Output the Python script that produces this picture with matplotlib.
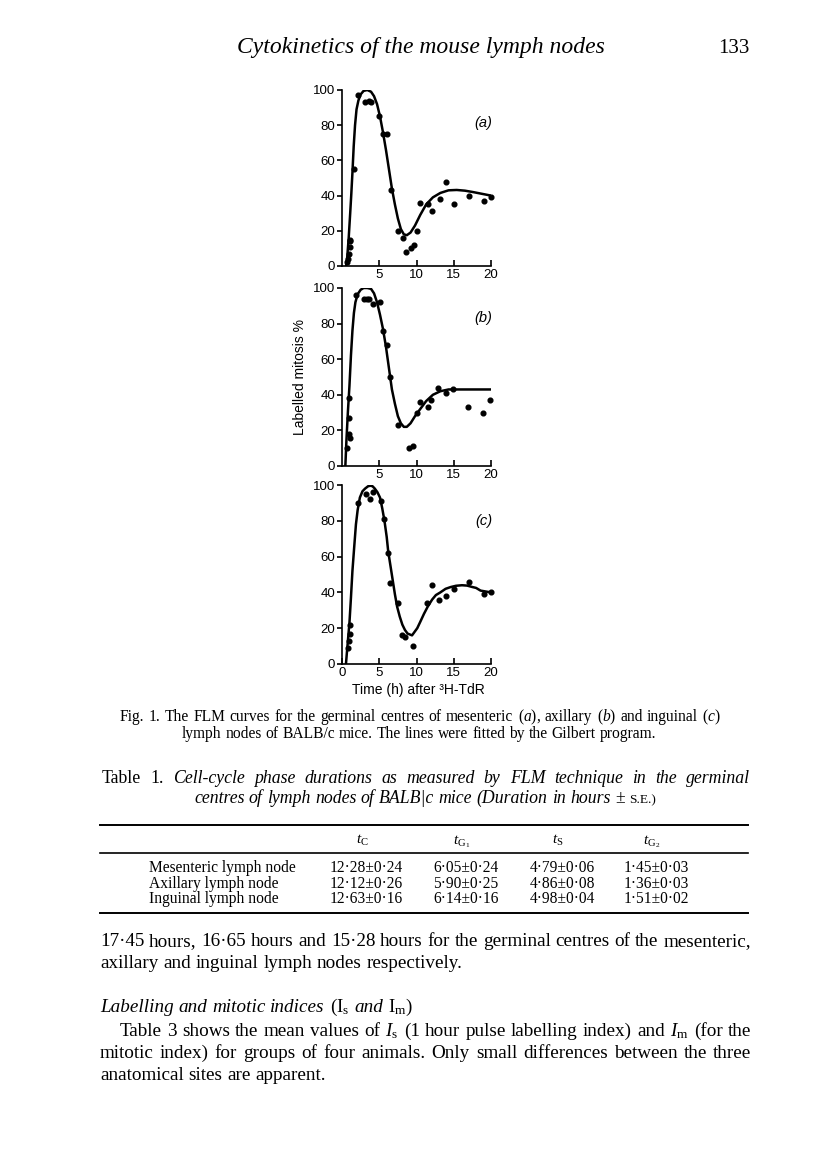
import matplotlib
matplotlib.use('Agg')
import matplotlib.pyplot as plt
from matplotlib.lines import Line2D

plt.rcParams['mathtext.fontset'] = 'custom'
plt.rcParams['mathtext.rm'] = 'Liberation Serif'
plt.rcParams['mathtext.it'] = 'Liberation Serif:italic'
plt.rcParams['mathtext.bf'] = 'Liberation Serif:bold'

W, H = 816, 1163
SERIF = 'Liberation Serif'
SANS = 'Liberation Sans'

# ---- FLM data ----
# (a) mesenteric
a_t = [0.7, 0.8, 1.0, 1.1, 1.1, 1.1, 1.6, 2.1, 3.1, 3.6, 3.9, 5.0, 5.5, 6.0, 6.6,
       7.5, 8.2, 8.6, 9.2, 9.6, 10.1, 10.5, 11.6, 12.1, 13.1, 14.0, 15.1, 17.0, 19.0, 20.0]
a_pct = [2, 4, 7, 11, 14, 15, 55, 97, 93, 94, 93, 85, 75, 75, 43,
         20, 16, 8, 10, 12, 20, 36, 35, 31, 38, 48, 35, 40, 37, 39]
a_fit_t = [0.55, 0.7, 0.9, 1.1, 1.25, 1.4, 1.57, 1.75, 1.95, 2.2, 2.5, 2.9, 3.4, 3.9,
           4.3, 4.7, 5.1, 5.5, 5.9, 6.3, 6.7, 7.1, 7.5, 7.9, 8.3, 8.7, 9.2, 9.8, 10.5,
           11.3, 12.2, 13.2, 14.3, 15.4, 16.5, 17.6, 18.8, 20.0]
a_fit = [0, 5, 16, 30, 41, 53, 68, 80, 89, 94, 97.5, 99.5, 100, 99,
         96.5, 92, 85, 76, 66, 55, 44, 35, 27, 21, 18, 17.5, 19, 23, 29,
         35, 39, 41.5, 43, 43.2, 42.8, 42, 41, 40]

# (b) axillary
b_t = [0.7, 0.9, 1.1, 1.0, 0.9, 1.9, 2.9, 3.3, 3.6, 4.1, 5.1, 5.5, 6.0, 6.5, 7.5,
       9.0, 9.5, 10.0, 10.5, 11.5, 12.0, 12.9, 14.0, 14.9, 16.9, 18.9, 19.9]
b_pct = [10, 18, 16, 27, 38, 96, 94, 94, 94, 91, 92, 76, 68, 50, 23,
         10, 11, 30, 36, 33, 37, 44, 41, 43, 33, 30, 37]
b_fit_t = [0.45, 0.6, 0.8, 1.0, 1.2, 1.4, 1.6, 1.8, 2.1, 2.5, 2.9, 3.4, 3.9, 4.3,
           4.7, 5.1, 5.5, 5.9, 6.3, 6.7, 7.1, 7.5, 7.9, 8.3, 8.7, 9.2, 9.8, 10.5,
           11.3, 12.2, 13.2, 14.3, 15.5, 17.0, 18.5, 20.0]
b_fit = [0, 15, 31, 45, 62, 76, 86, 92, 96.5, 99, 100, 100, 99.5, 97,
         92, 85, 77, 67, 55, 43, 35, 28, 24, 22, 22, 24, 28, 32,
         36.5, 40, 42, 43, 43, 43, 43, 43]

# (c) inguinal
c_t = [0.76, 0.9, 1.07, 1.07, 2.2, 3.2, 3.7, 4.2, 5.3, 5.7, 6.2, 6.5, 7.5, 8.0,
       8.4, 9.5, 11.4, 12.1, 13.0, 14.0, 15.0, 17.1, 19.0, 20.0]
c_pct = [9, 13, 17, 22, 90, 95, 92, 96, 91, 81, 62, 45, 34, 16,
         15, 10, 34, 44, 36, 38, 42, 46, 39, 40]
c_fit_t = [0.53, 0.75, 1.0, 1.2, 1.4, 1.65, 1.87, 2.1, 2.4, 2.75, 3.1, 3.5, 3.8, 4.1,
           4.4, 4.75, 5.1, 5.4, 5.7, 6.0, 6.2, 6.5, 6.8, 7.1, 7.4, 7.75, 8.1, 8.45,
           8.8, 9.4, 10.1, 10.5, 11.0, 11.5, 12.1, 12.6, 13.2, 13.9, 14.6, 15.3, 16.1,
           16.8, 17.5, 18.0, 18.6, 19.3, 20.0]
c_fit = [0, 11, 23, 37, 52, 66, 78, 86, 93, 96.5, 98, 99.3, 99.6, 99.3,
         98, 96, 93, 87, 80, 71, 63, 55, 47, 39, 32, 26.5, 22, 19,
         17, 16, 20, 23.5, 28, 32, 36, 38.5, 40, 42, 43, 43.7, 44,
         43.8, 43, 42.5, 41, 40.5, 40]

panel_names = ['(a)', '(b)', '(c)']
yticks = [0, 20, 40, 60, 80, 100]

# ---- Table 1 ----
row_names = ['Mesenteric lymph node', 'Axillary lymph node', 'Inguinal lymph node']
col_heads = [r'$t_{\mathrm{C}}$', r'$t_{\mathrm{G}_1}$', r'$t_{\mathrm{S}}$', r'$t_{\mathrm{G}_2}$']
t_c = ['12·28±0·24', '12·12±0·26', '12·63±0·16']
t_g1 = ['6·05±0·24', '5·90±0·25', '6·14±0·16']
t_s = ['4·79±0·06', '4·86±0·08', '4·98±0·04']
t_g2 = ['1·45±0·03', '1·36±0·03', '1·51±0·02']

fig = plt.figure(figsize=(W / 100, H / 100), dpi=100)
fig.patch.set_facecolor('white')
rend = fig.canvas.get_renderer()


def fx(x):
    return x / W


def fy(y):
    return 1 - y / H


# ---- the three FLM panels ----
boxes = [(90, 266), (288, 466), (485, 664)]
label_y = [81, 83, 80]
series = [(a_t, a_pct, a_fit_t, a_fit), (b_t, b_pct, b_fit_t, b_fit),
          (c_t, c_pct, c_fit_t, c_fit)]
for i, ((top, bot), (t, p, ft, fp)) in enumerate(zip(boxes, series)):
    ax = fig.add_axes([fx(342), fy(bot), fx(491) - fx(342), (bot - top) / H])
    ax.plot(ft, fp, color='black', lw=1.8, solid_joinstyle='round')
    ax.plot(t, p, 'o', color='black', ms=3.4, clip_on=False)
    ax.set_xlim(0, 20)
    ax.set_ylim(0, 100)
    for s in ['top', 'right']:
        ax.spines[s].set_visible(False)
    for s in ['left', 'bottom']:
        ax.spines[s].set_linewidth(1.2)
    ax.set_yticks(yticks)
    if i == 2:
        ax.set_xticks([0, 5, 10, 15, 20])
    else:
        ax.set_xticks([5, 10, 15, 20])
    ax.tick_params(axis='x', direction='in', length=4, width=1.2, pad=2,
                   labelsize=9.5)
    ax.tick_params(axis='y', direction='out', length=3.5, width=1.2, pad=1.5,
                   labelsize=9.5)
    for lab in ax.get_xticklabels() + ax.get_yticklabels():
        lab.set_family(SANS)
    ax.text(19, label_y[i], panel_names[i], ha='center', va='center',
            fontsize=10.5, style='italic', family=SANS)

fig.text(fx(300), fy(377), 'Labelled mitosis %', rotation=90, ha='center',
         va='center', fontsize=10, family=SANS)
fig.text(fx(418), fy(690), 'Time (h) after ³H-TdR', ha='center', va='center',
         fontsize=10, family=SANS)


# ---- text helpers ----
def line(y, words, size, x0=None, x1=None, center=None, gap=None):
    texts, widths = [], []
    for w in words:
        s, st = w[0], w[1]
        sz = size * (w[2] if len(w) > 2 else 1)
        tx = fig.text(0, fy(y), s, fontsize=sz, family=SERIF,
                      style='italic' if st == 'i' else 'normal', va='baseline')
        texts.append(tx)
        widths.append(tx.get_window_extent(rend).width)
    if gap is None:
        if x1 is not None:
            gap = (x1 - x0 - sum(widths)) / (len(words) - 1)
        else:
            gap = size * 100 / 72 * 0.25
    if center is not None:
        x0 = center - (sum(widths) + gap * (len(words) - 1)) / 2
    x = x0
    for tx, w in zip(texts, widths):
        tx.set_x(fx(x))
        x += w + gap


def words(s, st):
    return [(w, st) for w in s.split()]


# running head
fig.text(fx(421), fy(53), 'Cytokinetics of the mouse lymph nodes', ha='center',
         va='baseline', fontsize=17, style='italic', family=SERIF)
fig.text(fx(750), fy(53), '133', ha='right', va='baseline', fontsize=15,
         family=SERIF)

# caption
cap1 = (words('Fig. 1. The FLM curves for the germinal centres of mesenteric', 'r')
        + [(r'($\mathit{a}$),', 'r'), ('axillary', 'r'), (r'($\mathit{b}$)', 'r'),
           ('and', 'r'), ('inguinal', 'r'), (r'($\mathit{c}$)', 'r')])
line(721, cap1, 11.2, x0=120, x1=721)
cap2 = words('lymph nodes of BALB/c mice. The lines were fitted by the Gilbert program.', 'r')
line(738, cap2, 11.2, center=419)

# table title
tt1 = [('Table', 'r'), ('1.', 'r')] + words(
    'Cell-cycle phase durations as measured by FLM technique in the germinal', 'i')
line(783, tt1, 12.8, x0=102, x1=750)
tt2 = words('centres of lymph nodes of BALB|c mice (Duration in hours', 'i') + [
    ('±', 'r'), ('S.E.)', 'r', 0.75)]
line(803, tt2, 12.8, center=425)

# table rules
for yy, lw in [(825, 1.4), (853, 1.2), (913, 1.4)]:
    fig.add_artist(Line2D([fx(100), fx(748)], [fy(yy), fy(yy)], color='black',
                          lw=lw, transform=fig.transFigure))

col_x = [366, 466, 562, 656]
for cx, hd in zip(col_x, col_heads):
    fig.text(fx(cx - 4), fy(844), hd, ha='center', va='baseline', fontsize=11,
             family=SERIF)
row_y = [872, 888, 903]
for j, ry in enumerate(row_y):
    fig.text(fx(149), fy(ry), row_names[j], ha='left', va='baseline',
             fontsize=11.2, family=SERIF)
    for cx, col in zip(col_x, [t_c, t_g1, t_s, t_g2]):
        fig.text(fx(cx), fy(ry), col[j], ha='center', va='baseline',
                 fontsize=11.2, family=SERIF)

# body text
BODY = 13.8
line(946, words('17·45 hours, 16·65 hours and 15·28 hours for the germinal '
                'centres of the mesenteric,', 'r'), BODY, x0=100, x1=751)
line(968, words('axillary and inguinal lymph nodes respectively.', 'r'), BODY, x0=100)

line(1012, words('Labelling and mitotic indices', 'i')
     + [(r'(I$_{\mathrm{s}}$', 'r'), ('and', 'i'), (r'I$_{\mathrm{m}}$)', 'r')],
     BODY, x0=100)

line(1036, words('Table 3 shows the mean values of', 'r') + [(r'$I_{\mathrm{s}}$', 'r')]
     + words('(1 hour pulse labelling index) and', 'r') + [(r'$I_{\mathrm{m}}$', 'r')]
     + words('(for the', 'r'), BODY, x0=120, x1=751)
line(1058, words('mitotic index) for groups of four animals. Only small differences '
                 'between the three', 'r'), BODY, x0=100, x1=751)
line(1080, words('anatomical sites are apparent.', 'r'), BODY, x0=100)

fig.savefig('out.png', dpi=100, facecolor='white')
